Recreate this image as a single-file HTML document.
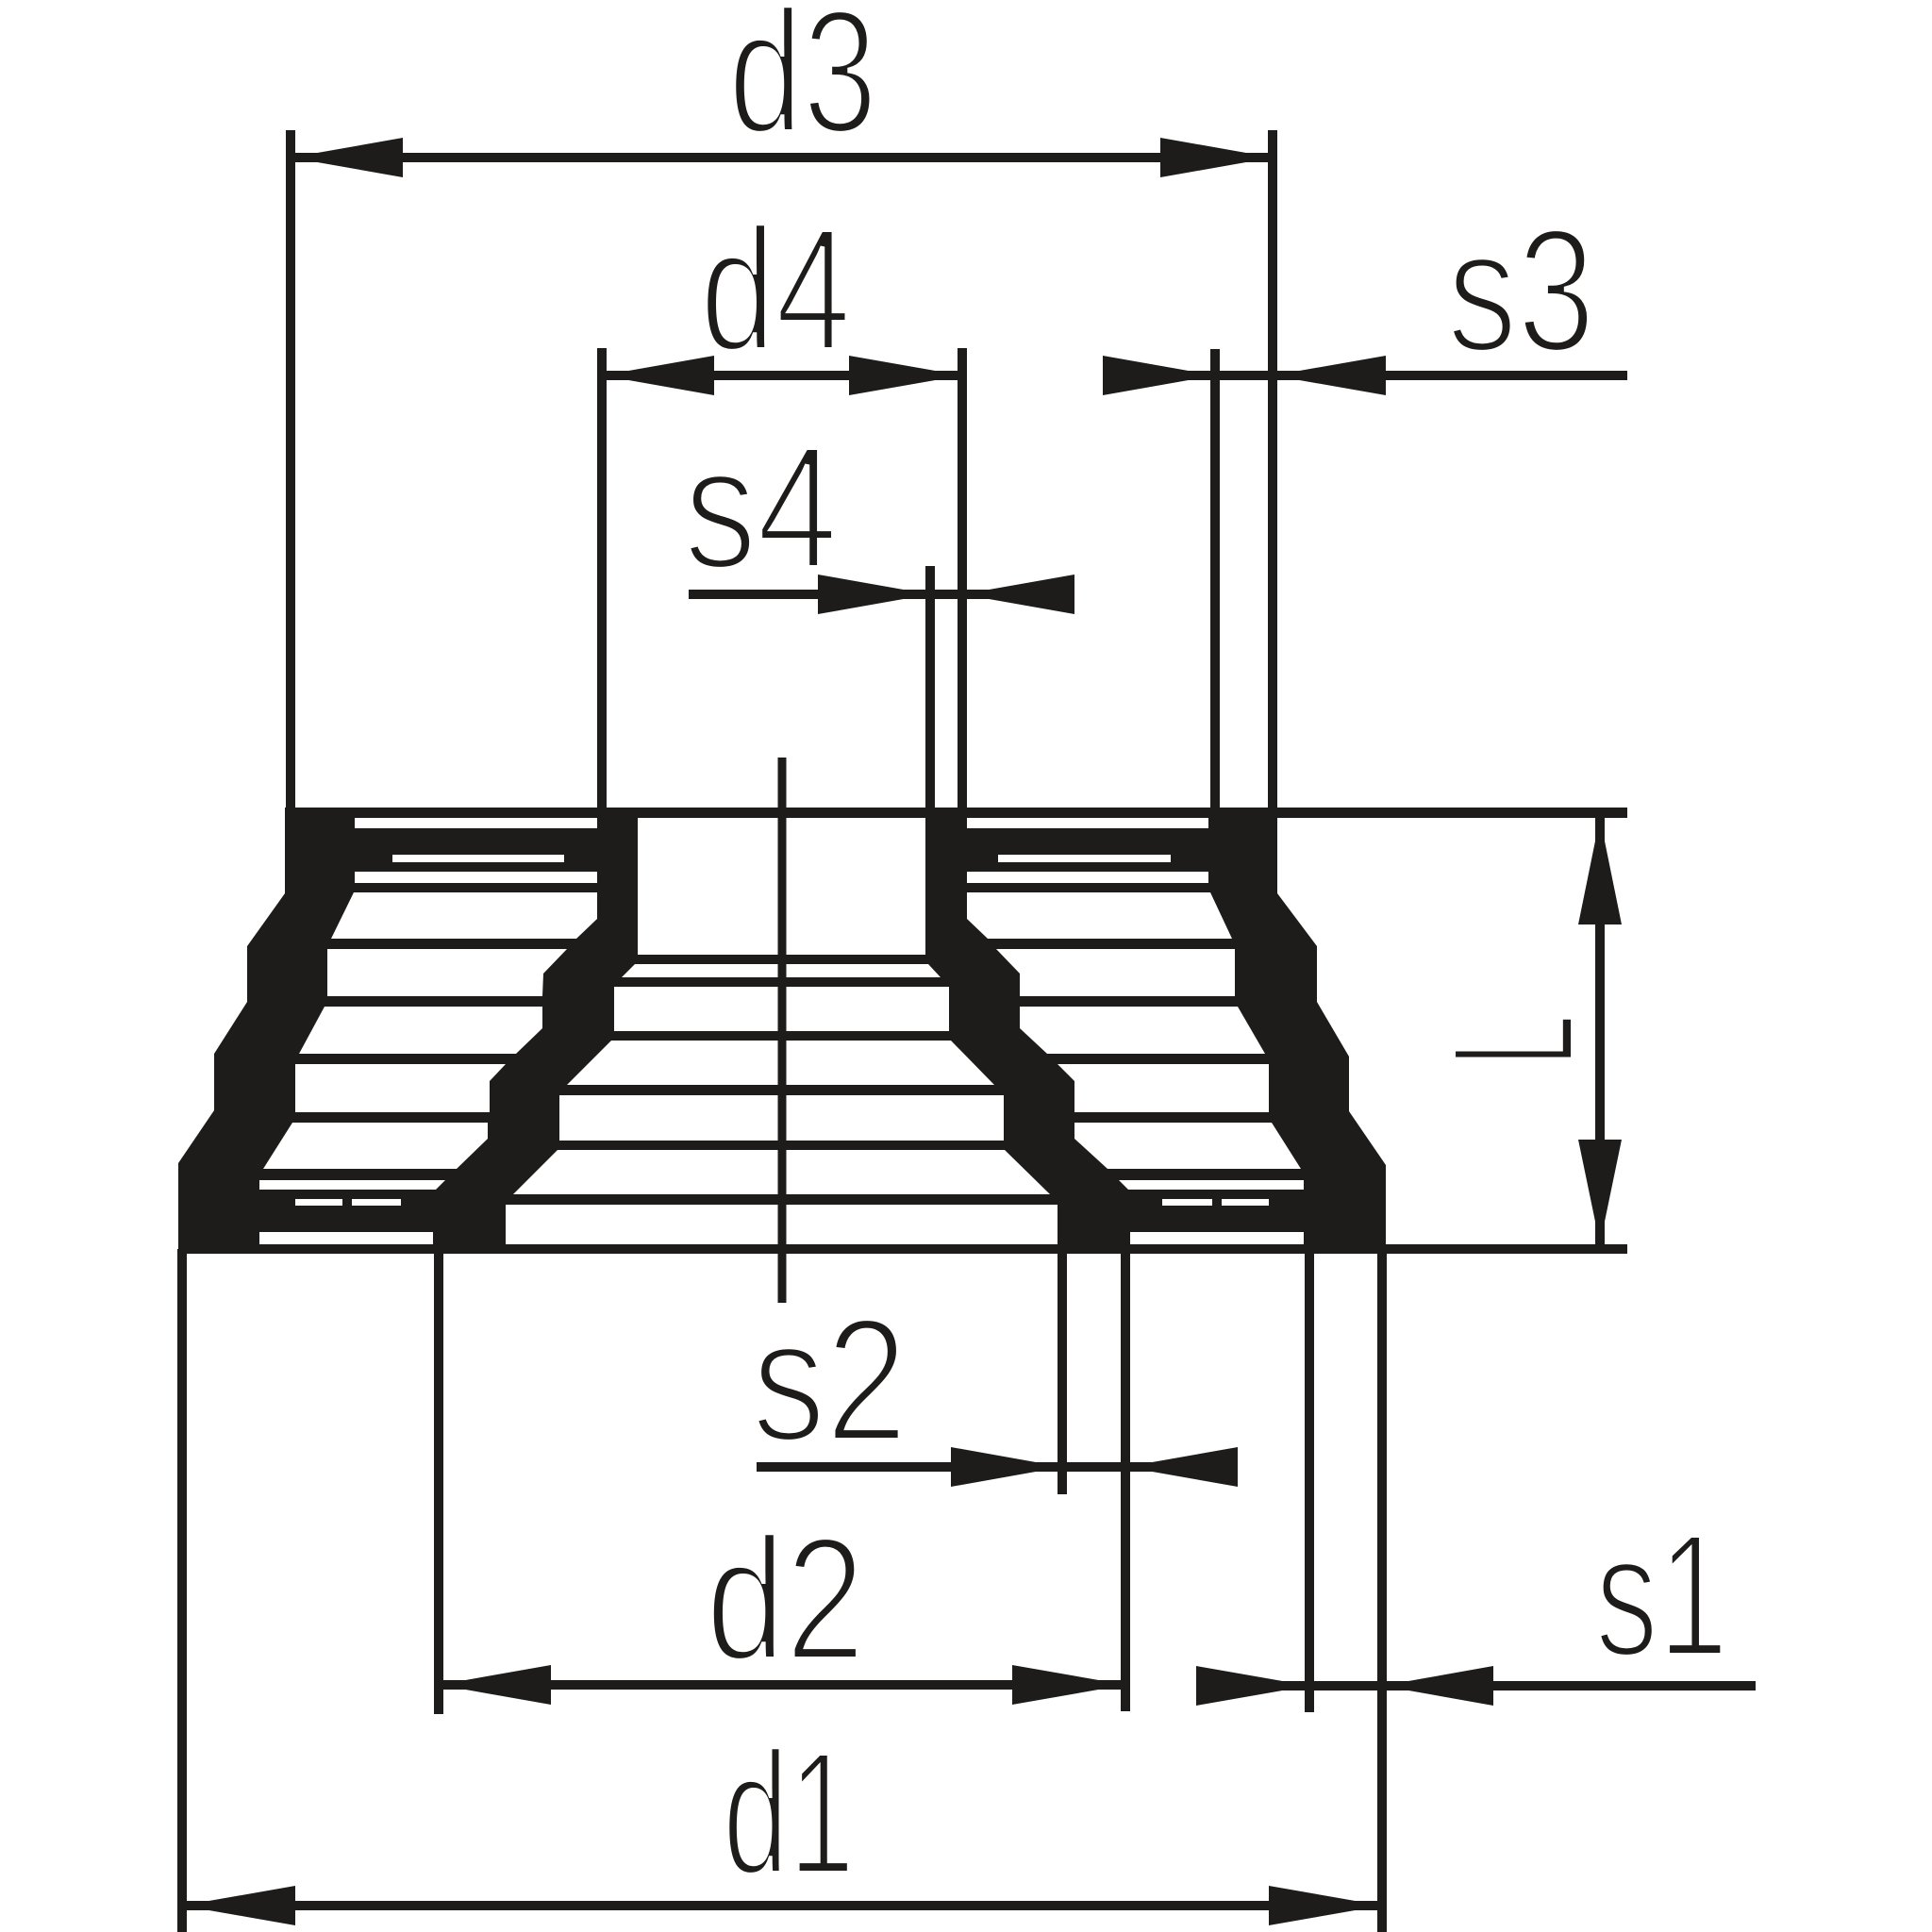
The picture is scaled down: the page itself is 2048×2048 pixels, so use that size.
<!DOCTYPE html>
<html><head><meta charset="utf-8"><style>
html,body{margin:0;padding:0;background:#fff;}
svg{display:block;}
text{font-family:"Liberation Sans",sans-serif;fill:#1d1c1a;stroke:#fff;stroke-width:6px;paint-order:fill;}
</style></head><body>
<svg width="2048" height="2048" viewBox="0 0 2048 2048" xmlns="http://www.w3.org/2000/svg">
<rect width="2048" height="2048" fill="#fff"/>
<g fill="#1d1c1a">
<polygon points="302,856 1354,856 1354,947 1396,1003 1396,1062 1430,1120 1430,1178 1469,1235 1469,1329 189,1329 189,1233 227,1177 227,1117 262,1062 262,1003 302,947"/>
</g>
<g fill="#fff">
<rect x="376" y="867" width="257" height="11"/>
<rect x="416" y="906" width="182" height="8"/>
<rect x="376" y="924" width="257" height="12"/>
<polygon points="375,946 633,946 633,974 611,995 351,995"/>
<polygon points="347,1006 601,1006 576,1032 575,1056 347,1056"/>
<polygon points="344,1067 575,1067 575,1090 547,1117 317,1117"/>
<polygon points="313,1128 536,1128 519,1146 519,1179 313,1179"/>
<polygon points="310,1190 517,1190 517,1207 484,1239 279,1239"/>
<polygon points="275,1251 472,1251 462,1261 275,1261"/>
<rect x="313" y="1271" width="50" height="7"/>
<rect x="373" y="1271" width="52" height="7"/>
<rect x="275" y="1306" width="184" height="13"/>
<rect x="676" y="867" width="305" height="145"/>
<polygon points="673,1022 984,1022 997,1036 659,1036"/>
<rect x="651" y="1046" width="355" height="47"/>
<polygon points="648,1103 1008,1103 1054,1150 601,1150"/>
<rect x="593" y="1161" width="471" height="48"/>
<polygon points="591,1219 1065,1219 1113,1266 544,1266"/>
<rect x="536" y="1277" width="585" height="42"/>
<rect x="1025" y="867" width="256" height="11"/>
<rect x="1058" y="906" width="183" height="8"/>
<rect x="1025" y="924" width="256" height="12"/>
<polygon points="1025,946 1283,946 1306,995 1047,995 1025,974"/>
<polygon points="1056,1006 1309,1006 1309,1056 1081,1056 1081,1032"/>
<polygon points="1081,1067 1312,1067 1341,1117 1110,1117 1081,1090"/>
<polygon points="1121,1128 1345,1128 1345,1179 1139,1179 1139,1146"/>
<polygon points="1139,1190 1348,1190 1379,1239 1174,1239 1139,1207"/>
<polygon points="1186,1251 1382,1251 1382,1261 1196,1261"/>
<rect x="1232" y="1271" width="53" height="7"/>
<rect x="1295" y="1271" width="50" height="7"/>
<rect x="1198" y="1306" width="184" height="13"/>
</g>
<g stroke="#1d1c1a" stroke-width="10" fill="none">
<line x1="302" y1="861.5" x2="1725" y2="861.5" stroke-width="11"/>
<line x1="189" y1="1324" x2="1725" y2="1324"/>
<line x1="308" y1="138" x2="308" y2="860"/>
<line x1="1349" y1="138" x2="1349" y2="860"/>
<line x1="638" y1="369" x2="638" y2="860"/>
<line x1="1020" y1="369" x2="1020" y2="860"/>
<line x1="1288" y1="370" x2="1288" y2="860"/>
<line x1="986" y1="600" x2="986" y2="860"/>
<line x1="829" y1="803" x2="829" y2="1381" stroke-width="9"/>
<line x1="308" y1="167" x2="1349" y2="167"/>
<line x1="638" y1="398" x2="1020" y2="398"/>
<line x1="1169" y1="398" x2="1725" y2="398"/>
<line x1="730" y1="630" x2="1139" y2="630"/>
<line x1="1696" y1="867" x2="1696" y2="1319"/>
<line x1="193" y1="1324" x2="193" y2="2048"/>
<line x1="465" y1="1324" x2="465" y2="1817"/>
<line x1="1126" y1="1324" x2="1126" y2="1584"/>
<line x1="1193" y1="1324" x2="1193" y2="1814"/>
<line x1="1388" y1="1324" x2="1388" y2="1815"/>
<line x1="1465" y1="1324" x2="1465" y2="2048"/>
<line x1="802" y1="1555" x2="1312" y2="1555"/>
<line x1="465" y1="1786" x2="1193" y2="1786"/>
<line x1="1268" y1="1787" x2="1861" y2="1787"/>
<line x1="193" y1="2020" x2="1465" y2="2020"/>
</g>
<g fill="#1d1c1a">
<polygon points="308,167 427,146 427,188"/>
<polygon points="1349,167 1230,146 1230,188"/>
<polygon points="638,398 757,377 757,419"/>
<polygon points="1020,398 900,377 900,419"/>
<polygon points="1288,398 1169,377 1169,419"/>
<polygon points="1349,398 1469,377 1469,419"/>
<polygon points="986,630 867,609 867,651"/>
<polygon points="1020,630 1139,609 1139,651"/>
<polygon points="1696,867 1673,980 1719,980"/>
<polygon points="1696,1319 1673,1208 1719,1208"/>
<polygon points="1126,1555 1008,1534 1008,1576"/>
<polygon points="1193,1555 1312,1534 1312,1576"/>
<polygon points="465,1786 584,1765 584,1807"/>
<polygon points="1193,1786 1073,1765 1073,1807"/>
<polygon points="1388,1787 1268,1766 1268,1808"/>
<polygon points="1465,1787 1583,1766 1583,1808"/>
<polygon points="193,2020 313,1999 313,2041"/>
<polygon points="1465,2020 1345,1999 1345,2041"/>
</g>
<g font-size="186">
<text x="772" y="140" textLength="158" lengthAdjust="spacingAndGlyphs">d3</text>
<text x="742" y="371" textLength="160" lengthAdjust="spacingAndGlyphs">d4</text>
<text x="1534" y="372" textLength="157" lengthAdjust="spacingAndGlyphs">s3</text>
<text x="725" y="602" textLength="163" lengthAdjust="spacingAndGlyphs">s4</text>
<text x="797" y="1527" textLength="165" lengthAdjust="spacingAndGlyphs">s2</text>
<text x="748" y="1759" textLength="169" lengthAdjust="spacingAndGlyphs">d2</text>
<text x="1691" y="1755" textLength="141" lengthAdjust="spacingAndGlyphs">s1</text>
<text x="766" y="1986" textLength="140" lengthAdjust="spacingAndGlyphs">d1</text>
<text transform="translate(1668,1130) rotate(-90)" textLength="54" lengthAdjust="spacingAndGlyphs">L</text>
</g>
</svg>
</body></html>
